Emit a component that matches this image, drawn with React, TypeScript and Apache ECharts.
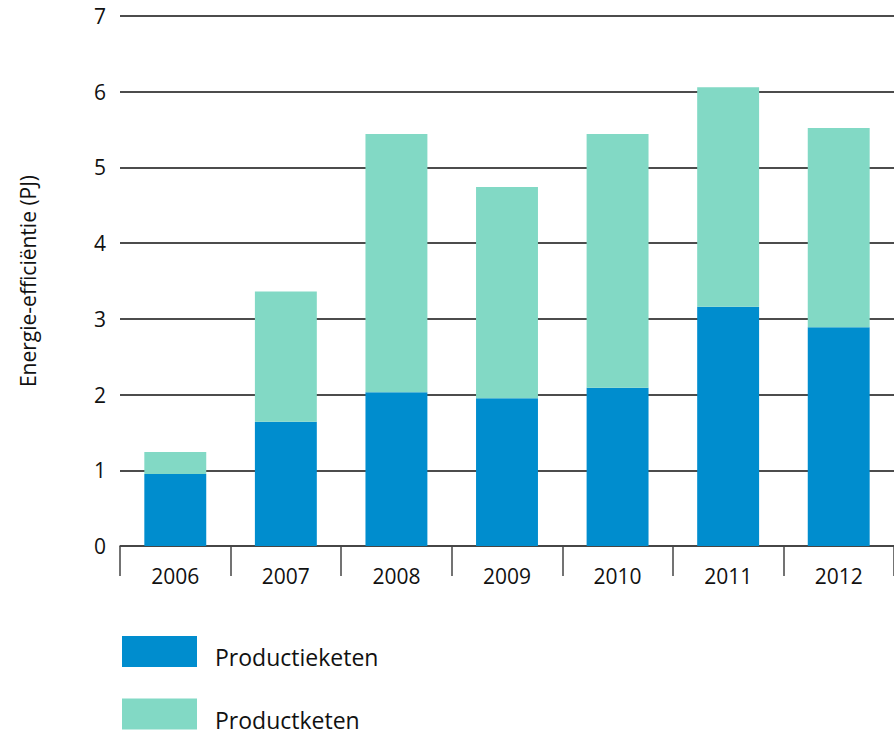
import React, { useEffect, useRef } from "react";
import * as echarts from "echarts";

const years = ["2006", "2007", "2008", "2009", "2010", "2011", "2012"];
const productieketen = [0.95, 1.64, 2.03, 1.95, 2.09, 3.16, 2.89];
const productketen = [0.29, 1.72, 3.41, 2.79, 3.35, 2.9, 2.63];
const seriesNames = ["Productieketen", "Productketen"];
const colors = ["#008DCE", "#82D9C5"];
const yAxisName = "Energie-efficiëntie (PJ)";

const FONT = "'Open Sans', 'Noto Sans', sans-serif";

export default function App() {
  const ref = useRef<HTMLDivElement>(null);
  useEffect(() => {
    if (!ref.current) return;
    const chart = echarts.init(ref.current, undefined, { renderer: "svg" });
    chart.setOption({
      animation: false,
      textStyle: { fontFamily: FONT },
      grid: { left: 120, right: 0, top: 16, bottom: 185, containLabel: false },
      legend: {
        orient: "vertical",
        left: 122,
        top: 636,
        padding: 0,
        height: 300,
        itemWidth: 75,
        itemHeight: 31,
        itemGap: 30,
        icon: "rect",
        data: seriesNames,
        formatter: "{a|{name}}",
        textStyle: {
          fontSize: 23,
          color: "#111",
          fontFamily: FONT,
          rich: {
            a: { fontSize: 23, color: "#111", fontFamily: FONT, padding: [11, 0, 0, 13] },
          },
        },
      },
      xAxis: {
        type: "category",
        data: years,
        axisLine: { show: true, lineStyle: { color: "#444", width: 1.5 } },
        axisTick: { show: true, alignWithLabel: false, length: 30, lineStyle: { color: "#444", width: 1.5 } },
        axisLabel: { fontSize: 21, color: "#111", margin: 19, fontFamily: FONT },
      },
      yAxis: {
        type: "value",
        min: 0,
        max: 7,
        interval: 1,
        name: yAxisName,
        nameLocation: "middle",
        nameGap: 82,
        nameTextStyle: { fontSize: 21, color: "#111", fontFamily: FONT },
        axisLine: { show: false },
        axisTick: { show: false },
        axisLabel: { fontSize: 21, color: "#111", margin: 14, fontFamily: FONT },
        splitLine: { show: true, lineStyle: { color: "#111", width: 1.5 } },
      },
      series: [
        {
          name: seriesNames[0],
          type: "bar",
          stack: "total",
          data: productieketen,
          barWidth: "56%",
          itemStyle: { color: colors[0] },
        },
        {
          name: seriesNames[1],
          type: "bar",
          stack: "total",
          data: productketen,
          barWidth: "56%",
          itemStyle: { color: colors[1] },
        },
      ],
    });
    return () => chart.dispose();
  }, []);
  return (
    <div
      ref={ref}
      style={{ position: "absolute", left: 0, top: 0, width: 894, height: 731 }}
    />
  );
}
